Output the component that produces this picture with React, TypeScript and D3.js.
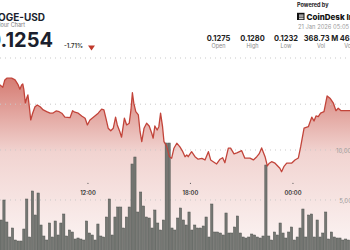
import React from 'react';
import * as d3 from 'd3';

const W = 350;
const H = 250;

const windowStart = new Date(2026, 0, 20, 5, 5);
const windowEnd = new Date(2026, 0, 21, 5, 5);
const volStart = new Date(2026, 0, 20, 6, 50);
const priceStart = new Date(2026, 0, 20, 6, 50);

// volume per 10-minute bucket, in millions
const volumesM = [
  3.0, 5.0, 2.8, 1.3, 2.2, 1.0, 0.9, 0.9, 2.1, 5.1, 1.3, 5.9, 3.5, 5.7, 2.5, 1.4, 1.0, 2.7, 1.3, 2.9,
  1.5, 2.7, 3.6, 1.4, 2.0, 1.8, 1.1, 1.2, 1.1, 1.0, 2.9, 1.7, 1.5, 1.0, 2.6, 1.4, 1.3, 3.3, 5.1, 1.5,
  3.3, 4.3,
  4.3, 2.2, 3.3, 4.3, 8.6, 9.3, 3.8, 5.8, 4.4, 3.3, 3.2, 2.2, 4.0, 2.7, 2.0, 3.0, 10.7, 10.7, 2.2, 2.0,
  3.2, 4.2, 3.0, 2.5, 3.8, 2.0, 2.5, 2.2, 2.2, 2.4, 3.3, 1.3, 4.6, 1.8, 1.8, 1.7, 1.5, 3.7, 1.7, 1.7,
  2.3, 3.4,
  1.7, 1.3, 1.2, 1.3, 1.6, 1.5, 1.3, 1.2, 1.4, 8.5, 1.4, 1.0, 1.8, 1.5, 2.7, 1.7, 1.2, 1.8, 2.3, 1.0,
  1.3, 2.2, 4.1, 1.3, 3.5, 3.6, 1.3, 3.0, 1.3, 1.7, 3.8, 1.1, 1.8, 1.3, 1.2, 1.2, 1.0, 1.1, 1.0,
];

// minutes after priceStart
const priceMinutes = [
  -8, 1, 11, 18, 25, 42, 54, 65, 71, 77, 81, 85, 90, 95, 99, 104, 109, 116, 124, 132,
  142, 153, 165, 177, 186, 198, 209, 218, 229, 247, 256, 264, 276, 288, 300, 308, 317, 329, 346, 358,
  366, 373, 381, 390, 399, 407, 413, 422, 428, 438, 446, 455, 461, 466, 471, 478, 487, 493, 499, 507,
  516, 525, 534, 539, 545, 553, 559, 565, 572, 577, 586, 596, 604, 612, 622, 633, 643, 651, 657, 662,
  674, 686, 697, 710, 721, 733, 741, 750, 762, 774, 783, 791, 803, 811, 823, 833, 850, 861, 879, 891,
  903, 911, 920, 932, 940, 947, 955, 967, 984, 990, 998, 1008, 1025, 1037, 1049, 1057, 1069, 1084, 1096, 1104,
  1111, 1119, 1127, 1139, 1150, 1160, 1172, 1181, 1189, 1199, 1230, 1335,
];
const priceValues = [
  0.12671, 0.12667, 0.12658, 0.12687, 0.12694, 0.12694, 0.12687, 0.12667, 0.1265, 0.12667, 0.12671, 0.12647, 0.12595, 0.12615, 0.12627, 0.1258, 0.12527, 0.12555, 0.1258, 0.12587,
  0.1258, 0.12567, 0.1256, 0.12554, 0.12554, 0.12563, 0.1256, 0.12554, 0.12538, 0.12536, 0.12564, 0.12558, 0.12554, 0.12543, 0.12534, 0.12507, 0.12527, 0.12538, 0.12554, 0.1257,
  0.12567, 0.12534, 0.12494, 0.12484, 0.12494, 0.12538, 0.12507, 0.1248, 0.12458, 0.12534, 0.12507, 0.12514, 0.12567, 0.12636, 0.12594, 0.1256, 0.12547, 0.1248, 0.1244, 0.12494,
  0.12514, 0.12503, 0.12474, 0.12454, 0.12503, 0.12487, 0.125, 0.12554, 0.125, 0.1244, 0.12423, 0.1238, 0.12374, 0.12414, 0.12434, 0.12419, 0.124, 0.1238, 0.12387, 0.1238,
  0.124, 0.1238, 0.1237, 0.12373, 0.12367, 0.124, 0.12367, 0.1236, 0.12351, 0.1237, 0.12376, 0.12356, 0.12414, 0.12414, 0.12391, 0.12395, 0.12404, 0.12374, 0.12374, 0.12367,
  0.1238, 0.12391, 0.12415, 0.1238, 0.12343, 0.12354, 0.1236, 0.12354, 0.12334, 0.1232, 0.1234, 0.12354, 0.12354, 0.12367, 0.12375, 0.12419, 0.12494, 0.125, 0.12538, 0.12523,
  0.12543, 0.1254, 0.12554, 0.1256, 0.12623, 0.12614, 0.12594, 0.12564, 0.12574, 0.12564, 0.12564, 0.12564,
];

const statValues = ['0.1275', '0.1280', '0.1232', '368.73 M', '46.24 M'];
const statLabels = ['Open', 'High', 'Low', 'Vol', 'Vol USD'];
const timeTicks = [new Date(2026, 0, 20, 12, 0), new Date(2026, 0, 20, 18, 0), new Date(2026, 0, 21, 0, 0)];
const volTicksM = [5, 10];
const priceGrid = [0.1259];

const FONT = 'Inter, "Noto Sans", sans-serif';

export default function App() {
  const x = d3.scaleTime().domain([windowStart, windowEnd]).range([-30.2, 379.8]);
  const yP = d3.scaleLinear().domain([0.1232, 0.1272]).range([171.7, 71.7]);
  const yV = d3.scaleLinear().domain([0, 10]).range([250, 150]);

  const pts = priceMinutes.map((m, i) => ({
    t: d3.timeMinute.offset(priceStart, m),
    p: priceValues[i],
  }));
  const line = d3.line<any>().x((d) => x(d.t)).y((d) => yP(d.p));
  const area = d3.area<any>().x((d) => x(d.t)).y0(260).y1((d) => yP(d.p));

  const bars = volumesM.map((v, i) => {
    const t0 = d3.timeMinute.offset(volStart, i * 10);
    const t1 = d3.timeMinute.offset(volStart, i * 10 + 10);
    return { x0: x(t0), x1: x(t1), v };
  });

  const fmtTime = d3.timeFormat('%H:%M');
  const fmtVol = d3.format(',');
  const statX = [218.5, 252.5, 286, 321, 355];
  const dotted = { stroke: '#c9c9c9', strokeWidth: 1, strokeDasharray: '1 4' };

  return (
    <svg
      width={W}
      height={H}
      style={{ position: 'absolute', left: 0, top: 0, display: 'block', background: '#fff' }}
      fontFamily={FONT}
    >
      <defs>
        <linearGradient id="ag" gradientUnits="userSpaceOnUse" x1="0" y1="72" x2="0" y2="250">
          <stop offset="0%" stopColor="#c0392b" stopOpacity={0.7} />
          <stop offset="45%" stopColor="#c0392b" stopOpacity={0.22} />
          <stop offset="100%" stopColor="#c0392b" stopOpacity={0.05} />
        </linearGradient>
      </defs>

      {/* header */}
      <text x={45} y={20.5} textAnchor="end" fontSize={10} fontWeight={700} fill="#1b1f2e">DOGE-USD</text>
      <text x={25} y={26.5} textAnchor="end" fontSize={5.5} fill="#7a7a7a">24 Hour Chart</text>
      <text x={53} y={47.3} textAnchor="end" fontSize={20} fontWeight={700} fill="#1b1f2e">$0.1254</text>
      <text x={64} y={48.3} fontSize={6} fontWeight={600} fill="#333">-1.71%</text>
      <path d="M88,45.5 L95,45.5 L91.5,50.5 Z" fill="#c0392b" />

      {statValues.map((s, i) => (
        <g key={s}>
          <text x={statX[i]} y={40.7} textAnchor="middle" fontSize={7.5} fontWeight={700} fill="#222">{s}</text>
          <text x={statX[i]} y={48.3} textAnchor="middle" fontSize={5.5} fill="#8a8a8a">{statLabels[i]}</text>
        </g>
      ))}

      <text x={297} y={7.3} fontSize={5.5} fontWeight={700} fill="#222">Powered by</text>
      <rect x={297} y={12.8} width={7.5} height={7.2} fill="#111" />
      <rect x={299} y={14.6} width={4.5} height={1} fill="#fff" />
      <rect x={299} y={16.4} width={4.5} height={1} fill="#fff" />
      <rect x={299} y={18.2} width={4.5} height={1} fill="#fff" />
      <text x={306.5} y={20} fontSize={8} fontWeight={800} fill="#111">CoinDesk Indices</text>
      <text x={298} y={28.5} fontSize={5.8} fill="#9a9a9a">21 Jan 2026 05:05 UTC</text>

      <line x1={0} x2={W} y1={58} y2={58} {...dotted} />

      {/* area */}
      <path d={area(pts) || ''} fill="url(#ag)" />

      {/* gridlines */}
      {priceGrid.map((p) => (
        <line key={p} x1={0} x2={W} y1={yP(p)} y2={yP(p)} {...dotted} />
      ))}
      {volTicksM.map((v) => (
        <line key={v} x1={0} x2={W} y1={yV(v)} y2={yV(v)} {...dotted} />
      ))}

      {/* volume bars */}
      {bars.map((b, i) => (
        <rect
          key={i}
          x={b.x0 + 0.3}
          y={yV(b.v)}
          width={b.x1 - b.x0 - 0.6}
          height={yV(0) - yV(b.v) + 2}
          fill="#747773"
          stroke="#50534f"
          strokeWidth={0.5}
        />
      ))}

      {/* price line */}
      <path d={line(pts) || ''} fill="none" stroke="#c2443a" strokeWidth={1.3} strokeLinejoin="round" />

      {/* volume axis labels */}
      {volTicksM.map((v) => (
        <text key={v} x={v === 10 ? 336 : 339.3} y={yV(v) + 2.5} fontSize={6} fill="#9a9a9a">
          {fmtVol(v * 1000000)}
        </text>
      ))}

      {/* time axis */}
      {timeTicks.map((t) => (
        <g key={t.getTime()}>
          <circle cx={x(t)} cy={183.3} r={0.6} fill="#555" />
          <text x={x(t)} y={195} textAnchor="middle" fontSize={5.8} fontWeight={600} fill="#333">
            {fmtTime(t)}
          </text>
        </g>
      ))}
    </svg>
  );
}
